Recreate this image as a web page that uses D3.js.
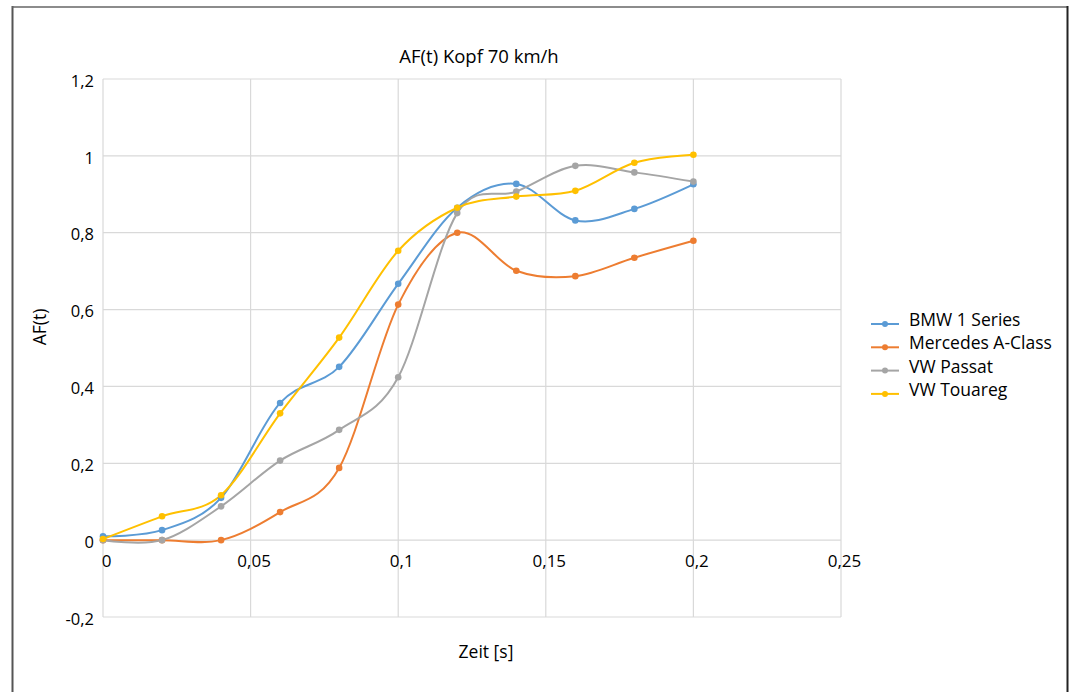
<!DOCTYPE html>
<html>
<head>
<meta charset="utf-8">
<script src="https://cdn.jsdelivr.net/npm/d3@7"></script>
<style>
  html, body { margin: 0; padding: 0; background: #fff; }
  svg { display: block; font-family: "Open Sans", "Noto Sans", sans-serif; }
</style>
</head>
<body>
<svg id="chart" width="1070" height="692"></svg>
<script>
// ---- data ----
const times = [0, 0.02, 0.04, 0.06, 0.08, 0.1, 0.12, 0.14, 0.16, 0.18, 0.2];
const seriesNames = ["BMW 1 Series", "Mercedes A-Class", "VW Passat", "VW Touareg"];
const bmw      = [0.010, 0.026, 0.110, 0.357, 0.451, 0.667, 0.865, 0.927, 0.832, 0.862, 0.926];
const mercedes = [0.000, 0.000, 0.000, 0.073, 0.188, 0.613, 0.800, 0.701, 0.687, 0.735, 0.779];
const passat   = [0.000, 0.000, 0.088, 0.207, 0.287, 0.424, 0.851, 0.907, 0.974, 0.957, 0.933];
const touareg  = [0.003, 0.062, 0.117, 0.330, 0.527, 0.753, 0.865, 0.894, 0.909, 0.982, 1.003];
const seriesValues = [bmw, mercedes, passat, touareg];
const colors = ["#5B9BD5", "#ED7D31", "#A5A5A5", "#FFC000"];
const xTicks = [0, 0.05, 0.1, 0.15, 0.2, 0.25];
const yTicks = [-0.2, 0, 0.2, 0.4, 0.6, 0.8, 1, 1.2];
const chartTitle = "AF(t) Kopf 70 km/h";
const xTitle = "Zeit [s]";
const yTitle = "AF(t)";

(function () {
// ---- layout ----
const svg = d3.select("#chart");
const pLeft = 103, pRight = 841, pTop = 79, pBottom = 617;
const x = d3.scaleLinear().domain([0, 0.25]).range([pLeft, pRight]);
const y = d3.scaleLinear().domain([-0.2, 1.2]).range([pBottom, pTop]);
const fmt = v => String(+v.toFixed(3)).replace(".", ",");

// frame
svg.append("line").attr("x1", 12.5).attr("x2", 12.5).attr("y1", 6).attr("y2", 692)
  .attr("stroke", "#555").attr("stroke-width", 2);
svg.append("line").attr("x1", 12).attr("x2", 1068).attr("y1", 7).attr("y2", 7)
  .attr("stroke", "#666").attr("stroke-width", 1.5);
svg.append("line").attr("x1", 1067.5).attr("x2", 1067.5).attr("y1", 6).attr("y2", 692)
  .attr("stroke", "#222").attr("stroke-width", 2);

// grid
const grid = svg.append("g");
grid.selectAll("line.h").data(yTicks).join("line").attr("class", "h")
  .attr("x1", pLeft).attr("x2", pRight)
  .attr("y1", d => y(d)).attr("y2", d => y(d))
  .attr("stroke", "#d9d9d9").attr("stroke-width", 1.2);
grid.selectAll("line.v").data(xTicks).join("line").attr("class", "v")
  .attr("y1", pTop).attr("y2", pBottom)
  .attr("x1", d => x(d)).attr("x2", d => x(d))
  .attr("stroke", "#d9d9d9").attr("stroke-width", 1.2);

// axes labels via d3 axes
const yAxis = d3.axisLeft(y).tickValues(yTicks).tickFormat(fmt).tickSize(0).tickPadding(9);
const gy = svg.append("g").attr("transform", `translate(${pLeft},2)`).call(yAxis);
gy.select(".domain").remove();
gy.selectAll("text").attr("font-size", 16.5).attr("fill", "#000").attr("font-family", "Open Sans");

const xAxis = d3.axisBottom(x).tickValues(xTicks).tickFormat(fmt).tickSize(0).tickPadding(15);
const gx = svg.append("g").attr("transform", `translate(0,${y(0)})`).call(xAxis);
gx.select(".domain").remove();
gx.selectAll("text").attr("font-size", 17).attr("fill", "#000").attr("font-family", "Open Sans")
  .attr("dx", 3);

// titles
svg.append("text").attr("x", 479).attr("y", 63).attr("text-anchor", "middle")
  .attr("font-size", 18.5).text(chartTitle);
svg.append("text").attr("x", 486).attr("y", 658).attr("text-anchor", "middle")
  .attr("font-size", 17.5).text(xTitle);
svg.append("text").attr("transform", "translate(46,327) rotate(-90)").attr("text-anchor", "middle")
  .attr("font-size", 17.5).text(yTitle);

// series
const line = d3.line().x((d, i) => x(times[i])).y(d => y(d)).curve(d3.curveCardinal.tension(0));
const gs = svg.append("g");
seriesValues.forEach((vals, k) => {
  gs.append("path").attr("d", line(vals)).attr("fill", "none")
    .attr("stroke", colors[k]).attr("stroke-width", 2);
});
seriesValues.forEach((vals, k) => {
  gs.selectAll(null).data(vals).join("circle")
    .attr("cx", (d, i) => x(times[i])).attr("cy", d => y(d)).attr("r", 3.3)
    .attr("fill", colors[k]);
});

// legend
const lg = svg.append("g");
seriesNames.forEach((name, k) => {
  const yy = 324 + k * 23.3;
  lg.append("line").attr("x1", 871).attr("x2", 899).attr("y1", yy).attr("y2", yy)
    .attr("stroke", colors[k]).attr("stroke-width", 2);
  lg.append("circle").attr("cx", 885).attr("cy", yy).attr("r", 3).attr("fill", colors[k]);
  lg.append("text").attr("x", 909).attr("y", yy + 2).attr("font-size", 17.5).text(name);
});
})();
</script>
</body>
</html>
